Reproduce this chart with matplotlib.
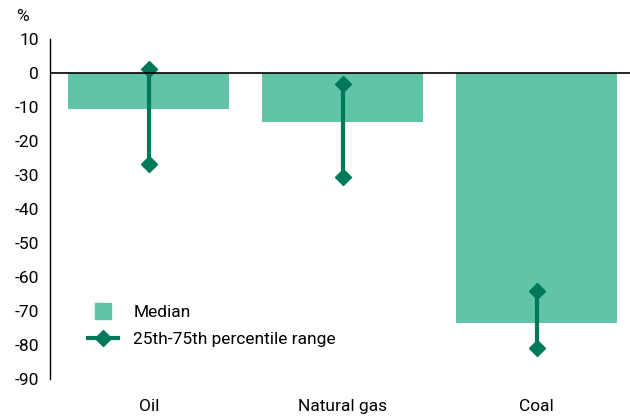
import matplotlib
matplotlib.use("Agg")
from matplotlib import pyplot as plt
from matplotlib.lines import Line2D
import numpy as np

plt.rcParams['font.family'] = ['Roboto', 'DejaVu Sans']

categories = ['Oil', 'Natural gas', 'Coal']
median = [-10.6, -14.4, -73.6]
p75 = [1.2, -3.2, -63.9]
p25 = [-26.7, -30.4, -80.9]
yticks = [10, 0, -10, -20, -30, -40, -50, -60, -70, -80, -90]

bar_color = '#5fc4a8'
line_color = '#00785a'

fig = plt.figure(figsize=(6.3, 4.19), dpi=100)
ax = fig.add_axes([0.079, 0.095, 0.921, 0.811])

x = np.arange(len(categories))
ax.bar(x, median, width=0.83, color=bar_color, zorder=2)
for xi, lo, hi in zip(x, p25, p75):
    ax.plot([xi, xi], [lo, hi], color=line_color, lw=3, marker='D',
            markersize=8, zorder=3)

ax.axhline(0, color='black', lw=1.2, zorder=4)

ax.set_xlim(-0.51, 2.48)
ax.set_ylim(-90, 10)
ax.set_yticks(yticks)
ax.set_yticklabels([str(t) for t in yticks], fontsize=12.5)
ax.set_xticks(x)
ax.set_xticklabels(categories, fontsize=12.5)
ax.tick_params(length=0, pad=8)
ax.tick_params(axis='x', pad=14)
for s in ['top', 'right', 'bottom']:
    ax.spines[s].set_visible(False)
ax.spines['left'].set_linewidth(1)

fig.text(0.026, 0.96, '%', fontsize=12.5, va='center', ha='left')

handles = [
    Line2D([], [], marker='s', linestyle='none', markersize=12, color=bar_color),
    Line2D([], [], marker='D', color=line_color, lw=3, markersize=8),
]
ax.legend(handles, ['Median', '25th-75th percentile range'],
          loc='upper left', bbox_to_anchor=(0.115, 0.31), bbox_transform=fig.transFigure,
          frameon=False, fontsize=12.5, handlelength=1.7, handletextpad=0.9,
          labelspacing=0.7)

fig.savefig('out.png', dpi=100)
